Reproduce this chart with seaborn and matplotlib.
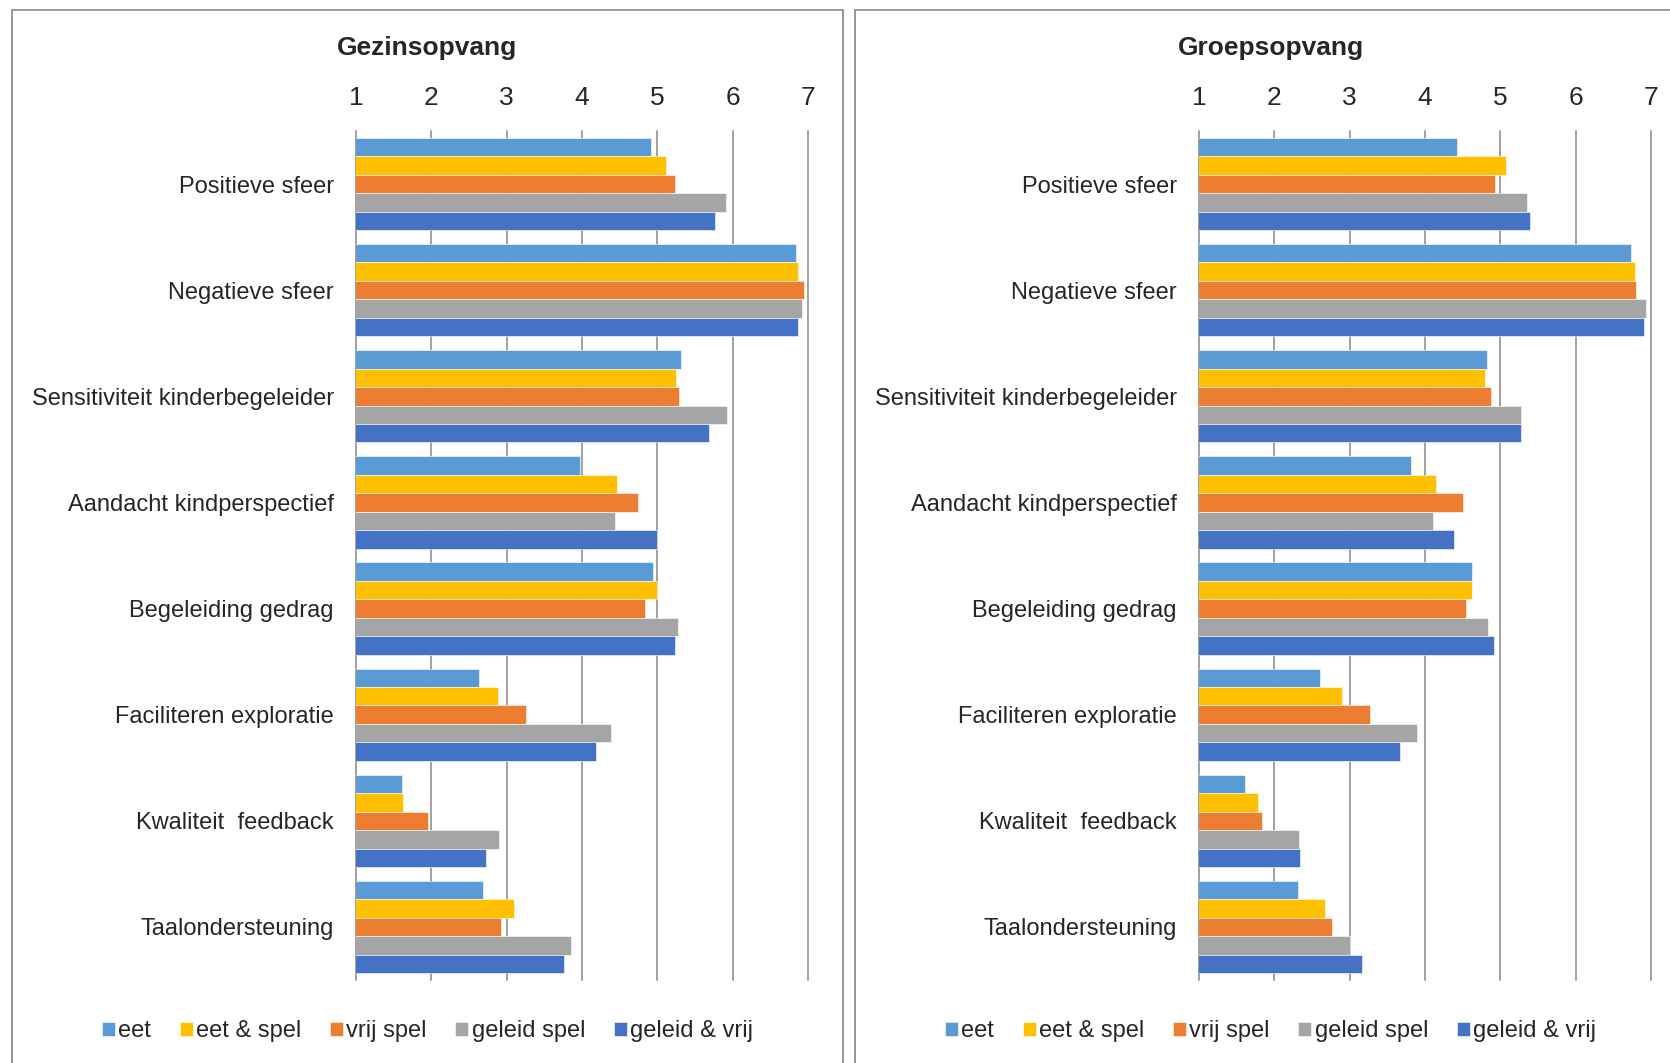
import seaborn as sns
import matplotlib.pyplot as plt
import pandas as pd
from matplotlib.patches import Rectangle

categories = [
    "Positieve sfeer",
    "Negatieve sfeer",
    "Sensitiviteit kinderbegeleider",
    "Aandacht kindperspectief",
    "Begeleiding gedrag",
    "Faciliteren exploratie",
    "Kwaliteit  feedback",
    "Taalondersteuning",
]
series = ["eet", "eet & spel", "vrij spel", "geleid spel", "geleid & vrij"]
colors = ["#5B9BD5", "#FFC000", "#ED7D31", "#A5A5A5", "#4472C4"]

# Gezinsopvang
gezin_eet = [4.91, 6.84, 5.31, 3.98, 4.94, 2.63, 1.61, 2.69]
gezin_eet_spel = [5.12, 6.87, 5.25, 4.47, 5.00, 2.88, 1.62, 3.10]
gezin_vrij = [5.23, 6.95, 5.29, 4.74, 4.83, 3.25, 1.95, 2.92]
gezin_geleid = [5.91, 6.92, 5.92, 4.44, 5.28, 4.38, 2.90, 3.85]
gezin_geleid_vrij = [5.77, 6.87, 5.69, 5.00, 5.23, 4.18, 2.72, 3.76]

# Groepsopvang
groep_eet = [4.43, 6.74, 4.82, 3.82, 4.62, 2.60, 1.61, 2.32]
groep_eet_spel = [5.07, 6.79, 4.80, 4.15, 4.62, 2.90, 1.78, 2.67]
groep_vrij = [4.93, 6.80, 4.88, 4.50, 4.55, 3.27, 1.83, 2.77]
groep_geleid = [5.36, 6.93, 5.27, 4.10, 4.83, 3.90, 2.33, 3.01]
groep_geleid_vrij = [5.40, 6.91, 5.28, 4.38, 4.91, 3.67, 2.34, 3.17]

ticks = [1, 2, 3, 4, 5, 6, 7]


def to_long(cols):
    rows = []
    for name, vals in zip(series, cols):
        for cat, v in zip(categories, vals):
            rows.append({"categorie": cat, "groep": name, "score": v})
    return pd.DataFrame(rows)


gezin_df = to_long([gezin_eet, gezin_eet_spel, gezin_vrij, gezin_geleid, gezin_geleid_vrij])
groep_df = to_long([groep_eet, groep_eet_spel, groep_vrij, groep_geleid, groep_geleid_vrij])

sns.set_style("white")
plt.rcParams["font.family"] = ["Liberation Sans", "DejaVu Sans"]

W, H = 1670, 1063
fig = plt.figure(figsize=(W / 100, H / 100), dpi=100)

panels = [
    # (df, title, axes left px, panel left px, panel right px)
    (gezin_df, "Gezinsopvang", 356, 12, 843),
    (groep_df, "Groepsopvang", 1199, 855, 1686),
]

ax_top, ax_bot = 131, 980
for df, title, left_px, p0, p1 in panels:
    # kader om elk paneel
    fig.patches.append(Rectangle((p0 / W, -0.02), (p1 - p0) / W, 1.02 - 10 / H,
                                 transform=fig.transFigure, fill=False,
                                 edgecolor="#8f8f8f", linewidth=1.3))
    ax = fig.add_axes([left_px / W, 1 - ax_bot / H, 452 / W, (ax_bot - ax_top) / H])
    sns.barplot(data=df, y="categorie", x="score", hue="groep", orient="h",
                hue_order=series, palette=colors, saturation=1, width=0.87,
                edgecolor="white", linewidth=0.4, ax=ax)
    ax.set_xlim(1, 7)
    ax.set_xticks(ticks)
    ax.xaxis.tick_top()
    ax.set_xlabel("")
    ax.set_ylabel("")
    ax.grid(axis="x", color="#a0a0a0", linewidth=1.4)
    ax.set_axisbelow(True)
    for gl in ax.xaxis.get_gridlines():
        gl.set_clip_on(False)
    for s in ax.spines.values():
        s.set_visible(False)
    ax.tick_params(axis="x", length=0, pad=15, labelsize=19)
    ax.tick_params(axis="y", length=0, pad=16, labelsize=17)

    handles = ax.legend_.legend_handles
    ax.legend_.remove()
    cx = (p0 + p1) / 2 / W
    ax.legend(handles, series, loc="center", bbox_to_anchor=(cx, 1 - 1031 / H),
              bbox_transform=fig.transFigure, ncol=5, frameon=False, fontsize=17,
              handlelength=0.55, handleheight=0.55, handletextpad=0.15,
              columnspacing=1.2)

    fig.text(cx, 1 - 48 / H, title, ha="center", va="center",
             fontsize=19, fontweight="bold")

fig.savefig("out.png", dpi=100)
